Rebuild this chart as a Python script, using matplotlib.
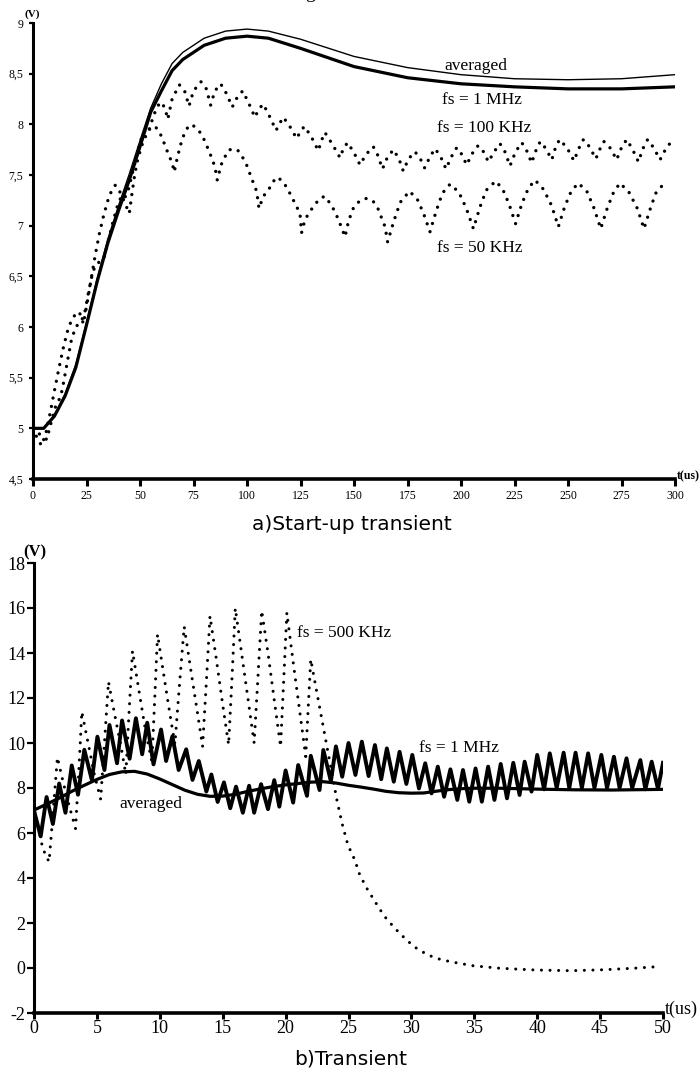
import matplotlib
matplotlib.use("Agg")
import matplotlib.pyplot as plt

# ---------------- data: panel a (start-up transient) ----------------
t_smooth_a = [0, 5, 10, 15, 20, 25, 30, 35, 40, 45, 50, 55, 60, 65, 70, 80, 90, 100,
              110, 125, 150, 175, 200, 225, 250, 275, 300]
v_averaged_a = [5.0, 5.0, 5.13, 5.34, 5.63, 6.04, 6.48, 6.87, 7.2, 7.51, 7.84, 8.16, 8.4,
                8.6, 8.71, 8.85, 8.92, 8.94, 8.92, 8.84, 8.67, 8.56, 8.49, 8.45, 8.44, 8.45, 8.49]
v_1mhz_a = [5.0, 5.0, 5.12, 5.32, 5.6, 6.02, 6.45, 6.83, 7.15, 7.45, 7.78, 8.12, 8.33,
            8.53, 8.64, 8.78, 8.85, 8.87, 8.85, 8.75, 8.57, 8.46, 8.4, 8.37, 8.35, 8.35, 8.37]

t_100k = [0, 2, 4.5, 6.4, 7.5, 9, 11, 12.8, 14, 16, 18, 20, 22.5, 24, 26, 28, 30, 32, 33.5,
          35.5, 37.5, 39.5, 41.5, 43, 44.5, 46.5, 48.5, 50.5, 52.5, 54, 55.5, 57.5, 59.5,
          61.5, 63, 65, 68.4, 71, 72.9, 75, 78.5, 81, 83, 85, 87.7, 90.5, 93.1, 95.5, 98,
          101, 103.7, 105.5, 107.6, 110.5, 113.6, 115, 117, 120, 123.2, 125, 126.8, 130,
          133.3, 135, 136.4, 140, 143.5, 145, 147, 150, 152.8, 155.5, 159, 161, 163.3,
          165.5, 168.4, 171, 173, 175.5, 178.5, 181, 183, 185.5, 187.9, 190.5, 193, 195.5,
          198, 200.5, 202.6, 205.5, 208, 210.5, 212.8, 215.5, 218.2, 220.5, 222.9, 225.5,
          228.4, 230.7, 233, 235, 237, 239.7, 242.4, 244, 246, 249.5, 252.8, 255, 257.2,
          260, 263, 265, 266.8, 270, 272.7, 275, 277.4, 280, 282.9, 285, 287.2, 290, 293,
          296, 299.2]
v_100k = [5.0, 4.96, 4.92, 4.89, 4.98, 5.1, 5.25, 5.3, 5.42, 5.65, 5.88, 6.0, 6.06, 6.12,
          6.35, 6.55, 6.63, 6.65, 6.7, 6.88, 7.05, 7.2, 7.3, 7.28, 7.35, 7.52, 7.7, 7.85,
          7.95, 7.93, 8.03, 8.15, 8.22, 8.17, 8.05, 8.25, 8.39, 8.32, 8.18, 8.33, 8.42,
          8.35, 8.19, 8.33, 8.4, 8.3, 8.17, 8.27, 8.33, 8.2, 8.07, 8.15, 8.2, 8.08, 7.94,
          8.0, 8.07, 7.98, 7.86, 7.93, 7.98, 7.88, 7.74, 7.85, 7.92, 7.8, 7.67, 7.76, 7.82,
          7.72, 7.6, 7.7, 7.78, 7.7, 7.56, 7.67, 7.75, 7.66, 7.54, 7.66, 7.73, 7.66, 7.57,
          7.68, 7.76, 7.68, 7.56, 7.68, 7.77, 7.7, 7.6, 7.72, 7.79, 7.73, 7.63, 7.73, 7.81,
          7.73, 7.59, 7.73, 7.82, 7.74, 7.62, 7.74, 7.83, 7.76, 7.65, 7.76, 7.85, 7.77,
          7.64, 7.76, 7.85, 7.78, 7.66, 7.76, 7.83, 7.76, 7.65, 7.77, 7.85, 7.76, 7.63,
          7.76, 7.85, 7.77, 7.65, 7.77, 7.85]

t_50k = [0, 2, 4, 6, 8, 10, 12, 14, 16, 18, 20, 21.5, 22.8, 23.5, 25, 27, 29, 31, 33, 35,
         37, 38.5, 40, 42, 43.8, 45, 46, 47.5, 49, 51, 53, 55, 57, 59, 61, 63, 65, 66, 67,
         68.7, 70.2, 72, 74, 76, 78.5, 80.4, 83.5, 85, 86.1, 87.9, 89.7, 91.7, 95.5, 97.8,
         99.8, 101.4, 103, 104.5, 105.6, 107.6, 110, 112, 114.2, 117, 119.3, 121.2, 123.2,
         124.8, 125.5, 127.1, 129.4, 131.8, 134.1, 136.4, 138.8, 140.8, 142.7, 144.2,
         145.8, 147.5, 150, 153, 156, 159, 161.4, 163, 164.5, 165.7, 168.7, 171.6, 175.9,
         179.6, 182.5, 185.5, 188.5, 191.3, 194.9, 199, 202.5, 205.8, 208.8, 211.8, 216.2,
         219.5, 222.5, 225.5, 228.5, 231.5, 234.6, 238.5, 242.3, 245.5, 248.5, 251.5,
         254.8, 258.8, 262.2, 265.3, 268.3, 271.3, 274.3, 278.5, 282.4, 285.5, 288.5, 291,
         293.8, 297]
v_50k = [5.0, 4.9, 4.83, 4.95, 5.15, 5.37, 5.58, 5.78, 5.95, 6.07, 6.13, 6.15, 6.09, 6.03,
         6.2, 6.45, 6.7, 6.92, 7.1, 7.25, 7.36, 7.4, 7.36, 7.27, 7.18, 7.12, 7.28, 7.5,
         7.66, 7.8, 7.9, 7.97, 7.98, 7.93, 7.83, 7.72, 7.62, 7.53, 7.63, 7.78, 7.88, 7.96,
         8.0, 7.97, 7.91, 7.83, 7.67, 7.58, 7.45, 7.6, 7.68, 7.75, 7.75, 7.68, 7.6, 7.51,
         7.42, 7.34, 7.17, 7.29, 7.35, 7.43, 7.48, 7.43, 7.35, 7.27, 7.19, 7.11, 6.93,
         7.06, 7.14, 7.21, 7.27, 7.29, 7.22, 7.15, 7.06, 6.98, 6.89, 7.05, 7.19, 7.25,
         7.27, 7.24, 7.16, 7.07, 6.99, 6.84, 7.05, 7.23, 7.34, 7.26, 7.12, 6.94, 7.15,
         7.32, 7.41, 7.33, 7.17, 6.97, 7.18, 7.35, 7.44, 7.36, 7.21, 7.02, 7.22, 7.37,
         7.45, 7.36, 7.2, 6.99, 7.19, 7.34, 7.42, 7.34, 7.17, 6.97, 7.17, 7.33, 7.42,
         7.33, 7.17, 6.97, 7.17, 7.32, 7.39, 7.38]

xticks_a = [0, 25, 50, 75, 100, 125, 150, 175, 200, 225, 250, 275, 300]
yticks_a = [4.5, 5, 5.5, 6, 6.5, 7, 7.5, 8, 8.5, 9]
ytick_labels_a = ["4,5", "5", "5,5", "6", "6,5", "7", "7,5", "8", "8,5", "9"]

# ---------------- data: panel b (transient) ----------------
t_avg_b = [0, 1, 2, 3, 4, 5, 6, 7, 8, 9, 10, 11, 12, 13, 14, 15, 16, 17, 18, 19, 20, 21,
           22, 23, 24, 25, 26, 27, 28, 29, 30, 31, 32, 33, 34, 35, 37, 40, 43, 46, 50]
v_avg_b = [7.02, 7.28, 7.55, 7.85, 8.12, 8.38, 8.6, 8.72, 8.74, 8.62, 8.4, 8.15, 7.9, 7.72,
           7.63, 7.64, 7.72, 7.85, 7.96, 8.06, 8.14, 8.2, 8.26, 8.28, 8.22, 8.12, 8.04,
           7.95, 7.85, 7.79, 7.77, 7.78, 7.86, 7.93, 7.97, 7.99, 7.99, 7.95, 7.92, 7.91, 7.94]

t_1mhz_b = [0, 0.53, 1.0, 1.5, 2.0, 2.5, 3.0, 3.5, 4.0, 4.6, 5.04, 5.6, 6.0, 6.6, 7.0, 7.6,
            8.1, 8.6, 9.0, 9.5, 10.1, 10.5, 11.0, 11.5, 12.1, 12.6, 13.1, 13.7, 14.1, 14.6,
            15.1, 15.6, 16.06, 16.6, 17.1, 17.5, 18.05, 18.6, 19.1, 19.5, 20.0, 20.6, 21.0,
            21.7, 22.0, 22.7, 23.0, 23.6, 24.0, 24.5, 25.0, 25.55, 26.06, 26.6, 27.1, 27.6,
            28.05, 28.6, 29.06, 29.6, 30.07, 30.6, 31.1, 31.6, 32.1, 32.6, 33.1, 33.65,
            34.1, 34.6, 35.1, 35.6, 36.1, 36.6, 37.1, 37.6, 38.1, 38.6, 39.0, 39.55, 40.0,
            40.55, 41.0, 41.55, 42.1, 42.55, 43.05, 43.55, 44.05, 44.55, 45.1, 45.55, 46.1,
            46.55, 47.1, 47.55, 48.2, 48.6, 49.1, 49.6, 50.0]
v_1mhz_b = [7.0, 5.85, 7.6, 6.4, 8.2, 6.9, 9.0, 7.7, 9.7, 8.35, 10.28, 8.8, 10.8, 9.1, 11.0,
            9.3, 11.1, 9.5, 10.9, 9.05, 10.6, 9.2, 10.3, 8.8, 9.72, 8.36, 9.2, 7.84, 8.6,
            7.38, 8.25, 7.1, 8.06, 6.9, 8.1, 6.9, 8.17, 7.06, 8.35, 7.17, 8.78, 7.35, 9.02,
            7.65, 9.43, 7.91, 9.69, 8.3, 9.85, 8.5, 10.0, 8.58, 10.06, 8.53, 9.91, 8.39,
            9.76, 8.28, 9.61, 8.18, 9.47, 7.98, 9.1, 7.76, 8.95, 7.61, 8.83, 7.47, 8.8,
            7.39, 8.87, 7.39, 8.95, 7.47, 9.07, 7.54, 9.12, 7.69, 9.17, 7.84, 9.47, 7.94,
            9.54, 8.0, 9.57, 8.0, 9.57, 8.0, 9.54, 8.0, 9.47, 8.0, 9.39, 8.0, 9.32, 8.0,
            9.24, 7.94, 9.17, 7.96, 9.12]

t_500k = [0, 0.3, 0.66, 0.93, 1.2, 1.5, 1.86, 2.3, 2.8, 3.3, 3.55, 3.8, 4.3, 4.8, 5.3, 5.6,
          5.92, 6.4, 6.9, 7.3, 7.55, 7.83, 8.35, 8.85, 9.37, 9.6, 9.82, 10.35, 10.8, 11.2,
          11.55, 11.94, 12.45, 12.95, 13.4, 13.7, 13.99, 14.5, 15.0, 15.47, 15.75, 16.0,
          16.5, 17.0, 17.5, 17.8, 18.1, 18.6, 19.1, 19.6, 19.85, 20.1, 20.6, 21.1, 21.6,
          21.8, 22.0, 22.3, 22.6, 22.9, 23.2, 23.5, 23.8, 24.1, 24.5, 24.95, 25.5, 25.9,
          26.5, 27.0, 27.5, 28.0, 28.7, 29.2, 30.2, 31.3, 32.2, 33.1, 34.9, 37.0, 39.9,
          42.7, 45.2, 47.7, 49.6]
v_500k = [7.0, 6.4, 5.4, 5.0, 4.72, 6.8, 9.36, 8.3, 7.2, 6.2, 8.6, 11.39, 10.0, 8.6, 7.5,
          10.0, 12.72, 11.3, 9.9, 8.6, 11.3, 14.09, 12.3, 10.6, 9.15, 12.0, 14.83, 12.9,
          11.3, 9.95, 12.5, 15.17, 13.3, 11.5, 9.85, 12.7, 15.64, 13.7, 11.7, 9.92, 13.0,
          15.99, 14.0, 12.0, 10.0, 12.9, 15.88, 14.0, 11.9, 9.84, 12.8, 15.79, 13.6, 11.5,
          9.4, 11.6, 13.72, 12.8, 11.9, 11.0, 10.1, 9.2, 8.3, 7.4, 6.4, 5.47, 4.8, 4.13,
          3.5, 3.05, 2.6, 2.2, 1.76, 1.47, 0.95, 0.58, 0.4, 0.28, 0.1, -0.01, -0.09, -0.12,
          -0.08, -0.01, 0.06]

xticks_b = [0, 5, 10, 15, 20, 25, 30, 35, 40, 45, 50]
yticks_b = [-2, 0, 2, 4, 6, 8, 10, 12, 14, 16, 18]

# ---------------- figure ----------------
W, H = 700, 1069
fig = plt.figure(figsize=(W / 100, H / 100), dpi=100)
SERIF = ["Liberation Serif", "DejaVu Serif"]


def fx(px):
    return px / W


def fy(py):
    return 1 - py / H


ax1 = fig.add_axes([fx(33), fy(479), (675 - 33) / W, (479 - 23) / H])
ax2 = fig.add_axes([fx(34), fy(1013), (663 - 34) / W, (1013 - 563) / H])

for ax in (ax1, ax2):
    for s in ("top", "right"):
        ax.spines[s].set_visible(False)
    ax.spines["left"].set_linewidth(2.2)
    ax.spines["bottom"].set_linewidth(2.6)

# panel a
ax1.plot(t_smooth_a, v_averaged_a, color="black", lw=1.0)
ax1.plot(t_smooth_a, v_1mhz_a, color="black", lw=2.3)
ax1.plot(t_100k, v_100k, color="black", lw=2.4, linestyle=(0, (0.01, 2.55)),
         dash_capstyle="round")
ax1.plot(t_50k, v_50k, color="black", lw=2.4, linestyle=(0, (0.01, 2.55)),
         dash_capstyle="round")
ax1.set_xlim(0, 300)
ax1.set_ylim(4.5, 9)
ax1.set_xticks(xticks_a)
ax1.set_xticklabels([str(v) for v in xticks_a], family=SERIF, fontsize=8.5)
ax1.set_yticks(yticks_a)
ax1.set_yticklabels(ytick_labels_a, family=SERIF, fontsize=8.5)
ax1.tick_params(axis="x", direction="out", length=5, width=2.2, pad=3)
ax1.tick_params(axis="y", direction="out", length=3, width=1.6, pad=4)

txt = dict(family=SERIF, fontsize=12.5, color="black")
ax1.text(206.9, 8.58, "averaged", ha="center", va="center", **txt)
ax1.text(210, 8.24, "fs = 1 MHz", ha="center", va="center", **txt)
ax1.text(210.9, 7.96, "fs = 100 KHz", ha="center", va="center", **txt)
ax1.text(208.9, 6.78, "fs = 50 KHz", ha="center", va="center", **txt)

# panel b
ax2.plot(t_avg_b, v_avg_b, color="black", lw=2.3)
ax2.plot(t_1mhz_b, v_1mhz_b, color="black", lw=2.8)
ax2.plot(t_500k, v_500k, color="black", lw=2.2, linestyle=(0, (0.01, 2.8)),
         dash_capstyle="round")
ax2.set_xlim(0, 50)
ax2.set_ylim(-2, 18)
ax2.set_xticks(xticks_b)
ax2.set_xticklabels([str(v) for v in xticks_b], family=SERIF, fontsize=13)
ax2.set_yticks(yticks_b)
ax2.set_yticklabels([str(v) for v in yticks_b], family=SERIF, fontsize=13)
ax2.tick_params(axis="x", direction="out", length=4.5, width=2.2, pad=0.5)
ax2.tick_params(axis="y", direction="out", length=5, width=1.6, pad=1)

ax2.text(20.9, 14.87, "fs = 500 KHz", ha="left", va="center", **txt)
ax2.text(30.6, 9.76, "fs = 1 MHz", ha="left", va="center", **txt)
ax2.text(9.26, 7.29, "averaged", ha="center", va="center", **txt)

# figure-level labels
fig.text(fx(32), fy(14), "(V)", ha="center", va="center", family=SERIF,
         fontsize=8, fontweight="bold")
fig.text(fx(677), fy(476), "t(us)", ha="left", va="center", family=SERIF,
         fontsize=8.5, fontweight="bold")
fig.text(fx(352), fy(525), "a)Start-up transient", ha="center", va="center",
         family="DejaVu Sans", fontsize=14.5)
fig.text(fx(35), fy(552), "(V)", ha="center", va="center", family=SERIF,
         fontsize=12, fontweight="bold")
fig.text(fx(665), fy(1009), "t(us)", ha="left", va="center", family=SERIF,
         fontsize=13)
fig.text(fx(351), fy(1059), "b)Transient", ha="center", va="center",
         family="DejaVu Sans", fontsize=14.5)
fig.text(fx(310), 1 + 2.3 / H, "g", ha="center", va="baseline", family=SERIF,
         fontsize=14)

fig.savefig("out.png", dpi=100)
